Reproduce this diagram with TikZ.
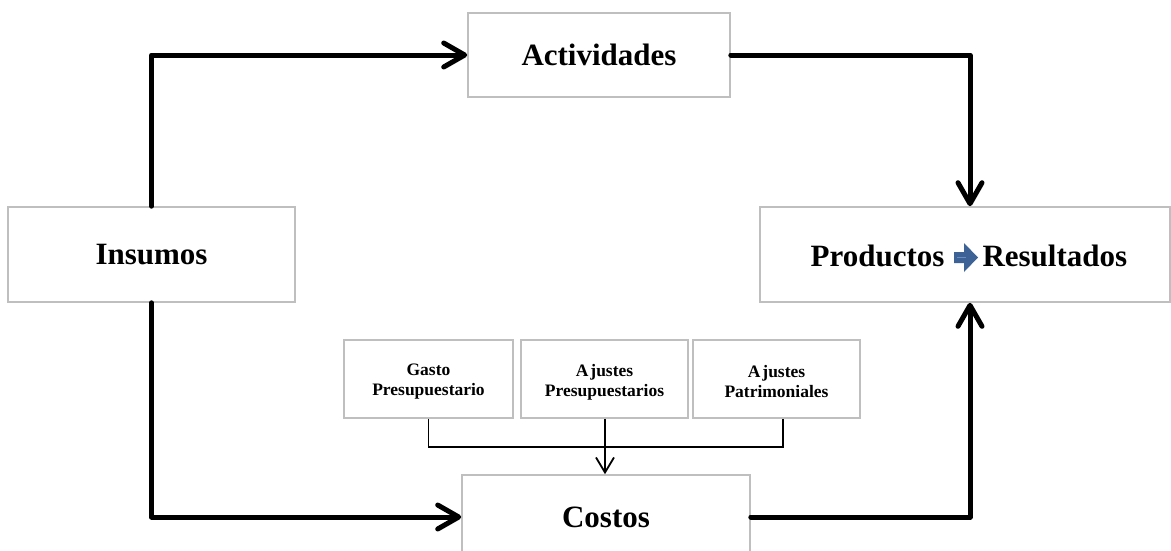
\documentclass[tikz,border=0pt]{standalone}
\usepackage{fontspec}
\setmainfont{Liberation Serif}
\usetikzlibrary{arrows.meta}
\definecolor{boxgray}{HTML}{BFBFBF}
\definecolor{arrowblue}{HTML}{3D6296}
\definecolor{arrowline}{HTML}{6A8CC0}
\tikzset{
  bigbox/.style={draw=boxgray, line width=1.6pt, fill=white, inner sep=0pt,
    font=\fontsize{31}{34}\selectfont\bfseries},
  smallbox/.style={draw=boxgray, line width=1.6pt, fill=white, inner sep=0pt,
    align=center, font=\fontsize{17.5}{20}\selectfont\bfseries},
  flow/.style={line width=5pt, line cap=round, line join=round,
    -{Straight Barb[length=21pt, width=24pt, line width=5pt, round]}},
  feed/.style={line width=1.8pt,
    -{Straight Barb[length=15pt, width=18pt, line width=1.8pt]}},
  mergeline/.style={line width=1.8pt}
}
\begin{document}
\begin{tikzpicture}[x=1pt, y=-1pt]
\useasboundingbox (0,0) rectangle (1171,550);
\clip (0,0) rectangle (1171,550);

% main stages
\node[bigbox, minimum width=262pt, minimum height=84pt] (act) at (599,55) {Actividades};
\node[bigbox, minimum width=287pt, minimum height=95pt] (ins) at (151.5,254.5) {Insumos};
\node[bigbox, minimum width=410pt, minimum height=95pt] (prod) at (965,254.5) {};
\node[bigbox, minimum width=288pt, minimum height=90pt] (cost) at (606,520) {};
\node[font=\fontsize{31}{34}\selectfont\bfseries] (costlbl) at (606,517) {Costos};

% label of the results box with its block arrow
\node[font=\fontsize{31}{34}\selectfont\bfseries, anchor=east] (prodlbl) at (948,256) {Productos};
\node[font=\fontsize{31}{34}\selectfont\bfseries, anchor=west] (reslbl) at (979,256) {Resultados};
\fill[arrowblue] (954,252) -- (964,252) -- (964,243) -- (978,257.5) -- (964,272) -- (964,263) -- (954,263) -- cycle;
\draw[arrowline, line width=1.6pt] (957,257.5) -- (966,257.5);

% cost components
\node[smallbox, minimum width=169pt, minimum height=78pt] (gasto) at (428.5,379) {};
\node[smallbox, minimum width=167pt, minimum height=78pt] (ajpre) at (604.5,379) {};
\node[smallbox, minimum width=167pt, minimum height=78pt] (ajpat) at (776.5,379) {};
\node[smallbox, draw=none, fill=none] (gastolbl) at (428.5,382) {Gasto\\Presupuestario};
\node[smallbox, draw=none, fill=none] (ajprelbl) at (604.5,382) {A\kern2pt justes\\Presupuestarios};
\node[smallbox, draw=none, fill=none] (ajpatlbl) at (776.5,382) {A\kern2pt justes\\Patrimoniales};

% main flows
\draw[flow] (ins.north) |- (act.west);
\draw[flow] (act.east) -| (prod.north -| 970,0);
\draw[flow] (ins.south) |- (cost.west |- costlbl);
\draw[flow] (cost.east |- costlbl) -| (prod.south -| 970,0);

% components merging into costs
\coordinate (merge) at (605,447);
\draw[mergeline] (gasto.south) |- (merge);
\draw[mergeline] (ajpat.south -| 783,0) |- (merge);
\draw[feed] (ajpre.south -| merge) -- (cost.north -| merge);
\end{tikzpicture}
\end{document}
